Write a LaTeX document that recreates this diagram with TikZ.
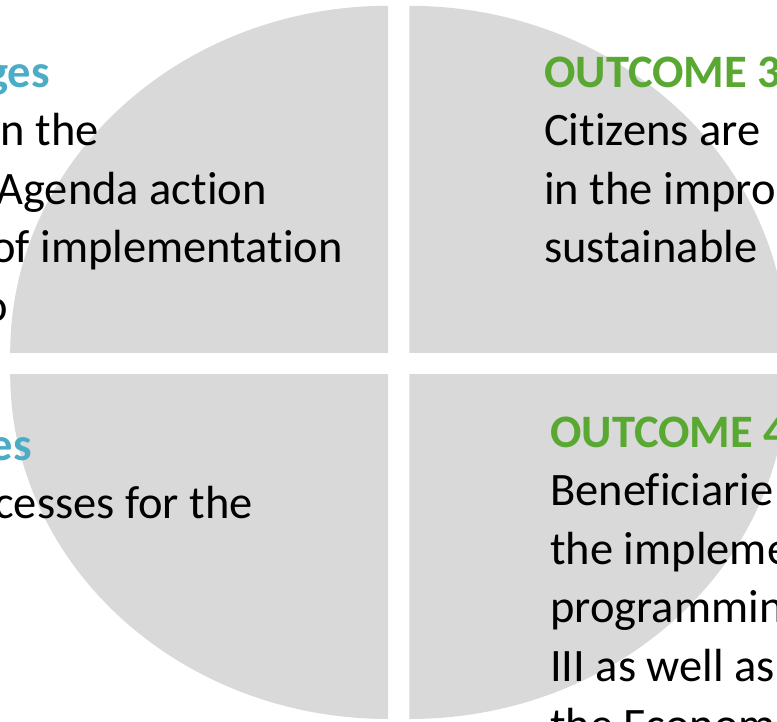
\documentclass[tikz,border=0pt]{standalone}
\usepackage{fontspec}
\setmainfont{Carlito}[Ligatures=NoCommon]
\definecolor{piecegray}{RGB}{217,217,217}
\definecolor{headteal}{RGB}{75,172,198}
\definecolor{headgreen}{RGB}{88,168,50}
\tikzset{
  piece/.style={fill=piecegray,draw=none},
  bodytext/.style={inner sep=0pt,font=\fontsize{46.5}{58.6}\selectfont},
  tealhead/.style={bodytext,text=headteal,font=\fontsize{46.5}{58.6}\selectfont\bfseries},
  greenhead/.style={bodytext,text=headgreen,font=\fontsize{46.5}{58.6}\selectfont\bfseries}
}
\begin{document}
\begin{tikzpicture}[x=1pt,y=1pt,yscale=-1,xscale=1]
\useasboundingbox (0,0) rectangle (777,721);
\clip (0,0) rectangle (777,721);
% quarter pieces
\draw [piece] (388.2,352.8) -- ++(-378,0) arc [start angle=180, end angle=270, x radius=378, y radius=347] -- cycle;
\draw [piece] (409.3,352.8) -- ++(378,0) arc [start angle=0, end angle=-90, x radius=378, y radius=347] -- cycle;
\draw [piece] (388.2,374) -- ++(-378,0) arc [start angle=180, end angle=90, x radius=378, y radius=345] -- cycle;
\draw [piece] (409.3,374) -- ++(378,0) arc [start angle=0, end angle=90, x radius=378, y radius=345] -- cycle;
% top left
\draw (50,87) node [tealhead][anchor=base east] (tlh) {ges};
\draw (99,145.6) node [bodytext][anchor=base east] (tla) {n the};
\draw (267,204.2) node [bodytext][anchor=base east] (tlb) {Agenda action};
\draw (343,262.8) node [bodytext][anchor=base east] (tlc) {of implementation};
\draw (8,321.4) node [bodytext][anchor=base east] (tld) {o};
% bottom left
\draw (32,460) node [tealhead][anchor=base east] (blh) {es};
\draw (253,518.6) node [bodytext][anchor=base east] (bla) {cesses for the};
% top right
\draw (544,87) node [greenhead][anchor=base west] (trh) {OUTCOME 3};
\draw (544,145.6) node [bodytext][anchor=base west] (tra) {Citizens are};
\draw (544,204.2) node [bodytext][anchor=base west] (trb) {in the impro};
\draw (544,262.8) node [bodytext][anchor=base west] (trc) {sustainable};
% bottom right
\draw (550,447) node [greenhead][anchor=base west] (brh) {OUTCOME 4};
\draw (550,505.6) node [bodytext][anchor=base west] (bra) {Beneficiarie};
\draw (550,564.2) node [bodytext][anchor=base west] (brb) {the impleme};
\draw (550,622.8) node [bodytext][anchor=base west] (brc) {programmin};
\draw (550,681.4) node [bodytext][anchor=base west] (brd) {III as well as};
\draw (550,740) node [bodytext][anchor=base west] (bre) {the Econom};
\end{tikzpicture}
\end{document}
